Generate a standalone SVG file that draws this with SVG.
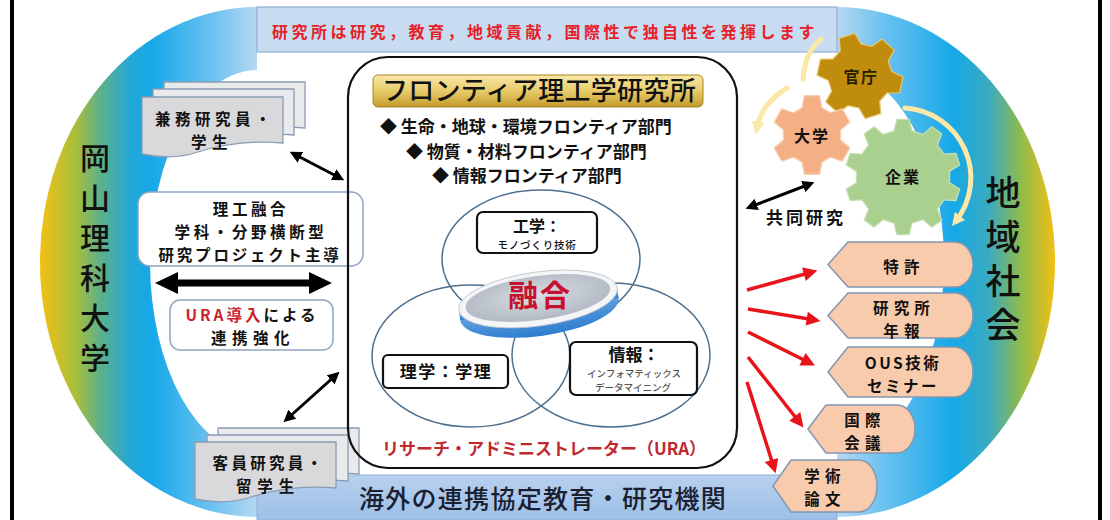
<svg xmlns="http://www.w3.org/2000/svg" width="1110" height="520" viewBox="0 0 1110 520">
<defs>
<style>
text{font-family:'Noto Sans CJK JP','Noto Sans',sans-serif;font-weight:700;fill:#111;}
.mid{text-anchor:middle;}
.lbl{font-size:15.5px;letter-spacing:3.6px;}
.side{font-size:15.5px;letter-spacing:5.2px;}
.vert{writing-mode:vertical-rl;font-weight:500;}
.doc{stroke:#8b9cb4;stroke-width:1.3;}
.docBack{fill:#e9eaec;}
.docFront{fill:#d9d9db;}
.rbox{fill:#fff;stroke:#8fa5c0;stroke-width:1.5;}
.kbox{fill:#fff;stroke:#111;stroke-width:2.2;}
.venn{fill:none;stroke:#4d6f8e;stroke-width:1.5;}
.disp{fill:#f8cbad;stroke:#8497b0;stroke-width:1.5;}
.red{stroke:#e8141c;stroke-width:3.5;fill:none;marker-end:url(#ahR);}
.blk{stroke:#000;stroke-width:3;fill:none;marker-start:url(#ahK);marker-end:url(#ahK);}
.pale{stroke:#fbe7a6;stroke-width:5;fill:none;stroke-linecap:round;}
.gear{stroke-width:1.2;stroke-linejoin:round;}
</style>
<linearGradient id="ringGrad" gradientUnits="userSpaceOnUse" x1="40" y1="0" x2="1055" y2="0">
<stop offset="0" stop-color="#f2c014"/>
<stop offset="0.035" stop-color="#a8bf3c"/>
<stop offset="0.06" stop-color="#5cb08a"/>
<stop offset="0.09" stop-color="#22a8d8"/>
<stop offset="0.11" stop-color="#16a8e8"/>
<stop offset="0.17" stop-color="#6cc2f0"/>
<stop offset="0.215" stop-color="#b8d8f2"/>
<stop offset="0.785" stop-color="#b8d8f2"/>
<stop offset="0.83" stop-color="#6cc2f0"/>
<stop offset="0.90" stop-color="#16a8e8"/>
<stop offset="0.935" stop-color="#3aabc0"/>
<stop offset="0.965" stop-color="#8cba50"/>
<stop offset="1" stop-color="#f2c014"/>
</linearGradient>
<linearGradient id="bandBot" x1="0" y1="0" x2="0" y2="1">
<stop offset="0" stop-color="#b7d0ee"/>
<stop offset="1" stop-color="#9dbfe7"/>
</linearGradient>
<linearGradient id="gold" x1="0" y1="0" x2="0" y2="1">
<stop offset="0" stop-color="#f8e7a8"/>
<stop offset="0.5" stop-color="#e8cc6a"/>
<stop offset="1" stop-color="#c29a2c"/>
</linearGradient>
<radialGradient id="diskFace" cx="0.5" cy="0.45" r="0.6">
<stop offset="0" stop-color="#d9dde2"/>
<stop offset="1" stop-color="#aeb6c0"/>
</radialGradient>
<linearGradient id="diskSide" x1="0" y1="0" x2="0" y2="1">
<stop offset="0" stop-color="#8cc0ee"/>
<stop offset="1" stop-color="#2d7dcf"/>
</linearGradient>
<marker id="ahK" viewBox="0 0 10 10" refX="6" refY="5" markerWidth="12" markerHeight="12" markerUnits="userSpaceOnUse" orient="auto-start-reverse">
<path d="M0,0 L10,5 L0,10 Z" fill="#000"/>
</marker>
<marker id="ahR" viewBox="0 0 10 10" refX="6" refY="5" markerWidth="16" markerHeight="14" markerUnits="userSpaceOnUse" orient="auto">
<path d="M0,0 L10,5 L0,10 Z" fill="#e8141c"/>
</marker>
<marker id="ahP" viewBox="0 0 10 10" refX="5" refY="5" markerWidth="13" markerHeight="13" markerUnits="userSpaceOnUse" orient="auto">
<path d="M0,0 L10,5 L0,10 Z" fill="#fbe7a6"/>
</marker>
<path id="docShape" d="M0,0 H141 V46 C106,43 78,48 56,55 C35,62 14,60 0,57 Z"/>
</defs>

<!-- page frame -->
<rect x="10" y="0" width="4" height="520" fill="#000"/>
<rect x="1098" y="0" width="4" height="520" fill="#000"/>

<!-- coloured stadium ring -->
<g id="ring">
<path d="M257,7 L837,7 A218,255 0 0 1 837,517 L257,517 A217,255 0 0 1 257,7 Z" fill="url(#ringGrad)"/>
<path d="M257,70 A107,192 0 0 0 257,454 L257,475 L837,475 L837,454 A107,192 0 0 0 837,70 L837,52 L257,52 Z" fill="#fff"/>
</g>

<g id="topBand">
<rect x="257" y="7" width="580" height="45" fill="#c7dcf0" stroke="#8fb0d4" stroke-width="1.2"/>
<text x="545" y="38" class="mid" style="font-size:16px;letter-spacing:3.5px;fill:#e8202a">研究所は研究，教育，地域貢献，国際性で独自性を発揮します</text>
</g>

<g id="bottomBand">
<rect x="257" y="475" width="580" height="45" fill="url(#bandBot)" stroke="#8fb0d4" stroke-width="1"/>
<text x="543" y="508" class="mid" style="font-size:25px;font-weight:500;letter-spacing:1.3px;fill:#1a2030">海外の連携協定教育・研究機関</text>
</g>

<g id="university">
<text x="95" y="143" class="vert" style="font-size:30px;letter-spacing:10px">岡山理科大学</text>
</g>

<g id="community">
<text x="1003" y="175" class="vert" style="font-size:35px;letter-spacing:9px">地域社会</text>
</g>

<!-- left side: researchers and collaboration -->
<g id="adjunct">
<use href="#docShape" x="164" y="82" class="doc docBack"/>
<use href="#docShape" x="153" y="89" class="doc docBack"/>
<use href="#docShape" x="142" y="97" class="doc docFront"/>
<text class="mid" style="font-size:15.5px"><tspan x="215" y="125" style="letter-spacing:4.5px">兼務研究員・</tspan><tspan x="212" y="148" style="letter-spacing:5.5px">学生</tspan></text>
</g>

<g id="fusionProject">
<rect x="138" y="192" width="225" height="74" rx="12" class="rbox"/>
<text class="mid lbl"><tspan x="251" y="215">理工融合</tspan><tspan x="251" y="238">学科・分野横断型</tspan><tspan x="250" y="261" style="letter-spacing:2.8px">研究プロジェクト主導</tspan></text>
</g>

<g id="uraLink">
<rect x="170" y="300" width="163" height="50" rx="10" class="rbox"/>
<text class="mid lbl"><tspan x="252" y="321" style="letter-spacing:3px"><tspan style="fill:#d0202a">URA導入</tspan>による</tspan><tspan x="253" y="344" style="letter-spacing:5.5px">連携強化</tspan></text>
</g>

<g id="visiting">
<use href="#docShape" x="218" y="428" class="doc docBack"/>
<use href="#docShape" x="207" y="435" class="doc docBack"/>
<use href="#docShape" x="195" y="442" class="doc docFront"/>
<text class="mid" style="font-size:15.5px"><tspan x="269" y="469" style="letter-spacing:3.3px">客員研究員・</tspan><tspan x="268" y="492" style="letter-spacing:5.8px">留学生</tspan></text>
</g>

<!-- research institute -->
<g id="institute">
<rect x="348" y="57" width="389" height="411" rx="40" fill="none" stroke="#111" stroke-width="2.2"/>
<rect x="373" y="75" width="330" height="32" rx="5" fill="url(#gold)" stroke="#a98320" stroke-width="1"/>
<text x="539" y="100" class="mid" style="font-size:26px;font-weight:500;letter-spacing:0.3px">フロンティア理工学研究所</text>
<text style="font-size:17px"><tspan x="380" y="133">◆ 生命・地球・環境フロンティア部門</tspan><tspan x="406" y="158">◆ 物質・材料フロンティア部門</tspan><tspan x="432" y="182">◆ 情報フロンティア部門</tspan></text>
<text x="544" y="455" class="mid" style="font-size:17px;fill:#c0282e">リサーチ・アドミニストレーター（URA）</text>
</g>

<g id="venn">
<ellipse cx="541" cy="259" rx="99" ry="69" class="venn"/>
<ellipse cx="471" cy="356" rx="99" ry="71" class="venn"/>
<ellipse cx="611" cy="355" rx="99" ry="72" class="venn"/>
</g>

<g id="engineering">
<rect x="477" y="212" width="120" height="41" rx="6" class="kbox"/>
<text class="mid"><tspan x="537" y="232" style="font-size:16px">工学：</tspan><tspan x="537" y="249" style="font-size:10.5px;font-weight:500;letter-spacing:0.8px">モノづくり技術</tspan></text>
</g>

<g id="science">
<rect x="383" y="355" width="125" height="33" rx="5" class="kbox"/>
<text x="446" y="378" class="mid" style="font-size:17px;letter-spacing:1.5px">理学：学理</text>
</g>

<g id="informatics">
<rect x="570" y="342" width="127" height="53" rx="6" class="kbox"/>
<text class="mid"><tspan x="634" y="361" style="font-size:17px">情報：</tspan><tspan x="634" y="377" style="font-size:9.5px;font-weight:500;fill:#555">インフォマティックス</tspan><tspan x="633" y="391" style="font-size:9.5px;font-weight:500;fill:#555">データマイニング</tspan></text>
</g>

<g id="fusion">
<g transform="rotate(-8 538 299)">
<ellipse cx="538" cy="309" rx="80" ry="27" fill="url(#diskSide)"/>
<rect x="458" y="299" width="160" height="10" fill="url(#diskSide)"/>
<ellipse cx="538" cy="299" rx="80" ry="27" fill="#f3f5f7" stroke="#b9c1ca" stroke-width="0.8"/>
<ellipse cx="538" cy="298" rx="73" ry="22" fill="url(#diskFace)"/>
</g>
<text x="540" y="306" class="mid" style="font-size:30px;letter-spacing:2px;fill:#c8102e">融合</text>
</g>

<!-- right side: industry-academia-government gears -->
<g id="gov">
<polygon class="gear" fill="#c08c0e" stroke="#e6c870" points="840.3,50.8 839.2,38.4 854.8,33.3 861.1,44.0 872.0,46.3 882.1,39.1 894.3,50.1 888.3,61.0 891.7,71.5 903.0,76.8 899.6,92.8 887.1,93.0 879.7,101.2 880.8,113.6 865.2,118.7 858.9,108.0 848.0,105.7 837.9,112.9 825.7,101.9 831.7,91.0 828.3,80.5 817.0,75.2 820.4,59.2 832.9,59.0"/>
<text x="861" y="83" class="mid" style="font-size:16px;letter-spacing:1.5px;fill:#2a1e00">官庁</text>
</g>

<g id="univGear">
<polygon class="gear" fill="#f4b084" stroke="#f8cfb0" points="802.1,107.8 804.4,95.7 819.6,95.7 821.9,107.8 830.6,112.8 842.2,108.8 849.8,122.0 840.6,130.0 840.6,140.0 849.8,148.0 842.2,161.2 830.6,157.2 821.9,162.2 819.6,174.3 804.4,174.3 802.1,162.2 793.4,157.2 781.8,161.2 774.2,148.0 783.4,140.0 783.4,130.0 774.2,122.0 781.8,108.8 793.4,112.8"/>
<text x="812" y="142" class="mid" style="font-size:16px;letter-spacing:2px">大学</text>
</g>

<g id="company">
<polygon class="gear" fill="#a9d08e" stroke="#c6e0b4" points="894.0,130.9 896.9,119.3 909.1,119.3 912.0,130.9 922.9,134.4 932.0,126.8 941.8,133.9 937.4,145.0 944.1,154.2 956.0,153.4 959.7,164.9 949.6,171.3 949.6,182.7 959.7,189.1 956.0,200.6 944.1,199.8 937.4,209.0 941.8,220.1 932.0,227.2 922.9,219.6 912.0,223.1 909.1,234.7 896.9,234.7 894.0,223.1 883.1,219.6 874.0,227.2 864.2,220.1 868.6,209.0 861.9,199.8 850.0,200.6 846.3,189.1 856.4,182.7 856.4,171.3 846.3,164.9 850.0,153.4 861.9,154.2 868.6,145.0 864.2,133.9 874.0,126.8 883.1,134.4"/>
<text x="903" y="183" class="mid" style="font-size:16px;letter-spacing:2px">企業</text>
</g>

<text x="806" y="224" class="mid" style="font-size:17px;letter-spacing:3px">共同研究</text>

<!-- outputs to the community -->
<g id="patent">
<path d="M828,264.5 L848,242 H955 A18,22.5 0 0 1 955,287 H848 Z" class="disp"/>
<text x="904" y="273" class="mid side">特許</text>
</g>
<g id="annualReport">
<path d="M828,315.5 L848,293 H955 A18,22.5 0 0 1 955,338 H848 Z" class="disp"/>
<text class="mid side"><tspan x="904" y="314">研究所</tspan><tspan x="904" y="337">年報</tspan></text>
</g>
<g id="seminar">
<path d="M828,372 L848,347 H955 A18,25 0 0 1 955,397 H848 Z" class="disp"/>
<text class="mid side"><tspan x="903" y="369" style="letter-spacing:2.5px">OUS技術</tspan><tspan x="903" y="392" style="letter-spacing:2.5px">セミナー</tspan></text>
</g>
<g id="conference">
<path d="M808,429 L826,405 H897 A18,24 0 0 1 897,453 H826 Z" class="disp"/>
<text class="mid side"><tspan x="865" y="426">国際</tspan><tspan x="865" y="449">会議</tspan></text>
</g>
<g id="papers">
<path d="M773,486 L791,460 H859 A18,26 0 0 1 859,512 H791 Z" class="disp"/>
<text class="mid side"><tspan x="825" y="482">学術</tspan><tspan x="825" y="505">論文</tspan></text>
</g>

<!-- connectors -->
<g id="connectors">
<line x1="294" y1="154" x2="340" y2="178" class="blk"/>
<polygon points="155,283 178,272 178,279.5 309,279.5 309,272 332,283 309,294 309,286.5 178,286.5 178,294" fill="#000"/>
<line x1="287" y1="419" x2="336" y2="375" class="blk"/>
<line x1="750" y1="207" x2="810" y2="184" class="blk"/>
<path d="M821,39 Q805,52 803,79" class="pale"/>
<path d="M787,88 Q761,104 757,128" class="pale" marker-end="url(#ahP)"/>
<path d="M905,108 A70,70 0 0 1 956,221" class="pale" marker-end="url(#ahP)"/>
<line x1="747" y1="290" x2="812" y2="272" class="red"/>
<line x1="748" y1="309" x2="815" y2="320" class="red"/>
<line x1="748" y1="332" x2="810" y2="363" class="red"/>
<line x1="748" y1="357" x2="800" y2="423" class="red"/>
<line x1="747" y1="382" x2="774" y2="468" class="red"/>
</g>
</svg>
